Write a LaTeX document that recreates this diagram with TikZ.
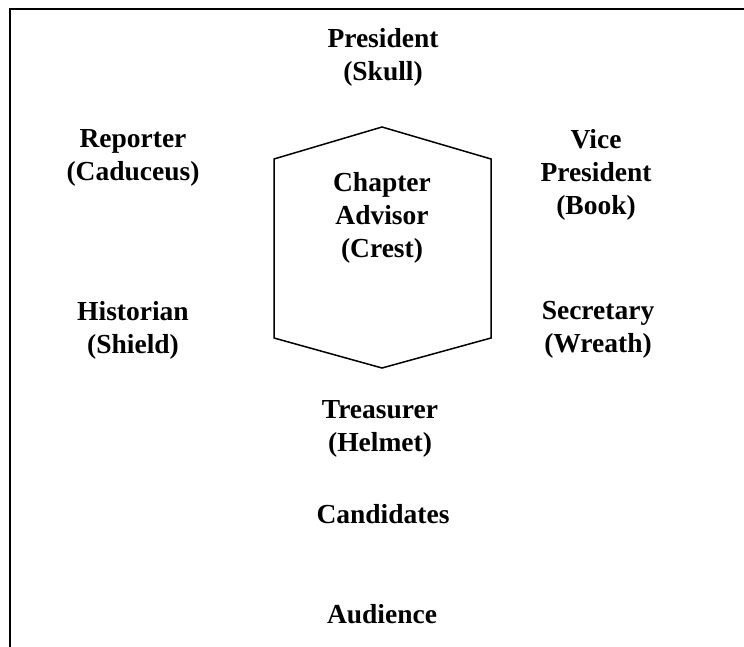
\documentclass[tikz,border=0pt]{standalone}
\usepackage{fontspec}
\setmainfont{Liberation Serif}
\begin{document}
\begin{tikzpicture}[x=1pt,y=-1pt,
  lbl/.style={align=center,inner sep=0pt,font=\bfseries\fontsize{27.5}{33}\selectfont},
  frame/.style={line width=2.5pt},
  hexa/.style={line width=1.5pt,line join=miter}]
\useasboundingbox (0,0) rectangle (744,647);
\coordinate (fbl) at (10,647);
\coordinate (ftl) at (10,9);
\coordinate (ftr) at (744,9);
\draw[frame] (fbl) -- (ftl) -- (ftr);
\coordinate (h1) at (382,127);
\coordinate (h2) at (491,159);
\coordinate (h3) at (491,338);
\coordinate (h4) at (382,368);
\coordinate (h5) at (274,338);
\coordinate (h6) at (274,159);
\draw[hexa] (h1) -- (h2) -- (h3) -- (h4) -- (h5) -- (h6) -- cycle;
\node[lbl] (pres) at (383,57) {President\\(Skull)};
\node[lbl] (rep) at (133,158) {Reporter\\(Caduceus)};
\node[lbl] (vp) at (596,175) {Vice\\President\\(Book)};
\node[lbl] (adv) at (382,218) {Chapter\\Advisor\\(Crest)};
\node[lbl] (hist) at (133,330) {Historian\\(Shield)};
\node[lbl] (sec) at (598,330) {Secretary\\(Wreath)};
\node[lbl] (tre) at (380,429) {Treasurer\\(Helmet)};
\node[lbl] (cand) at (383,514) {Candidates};
\node[lbl] (aud) at (382,614) {Audience};
\end{tikzpicture}
\end{document}
